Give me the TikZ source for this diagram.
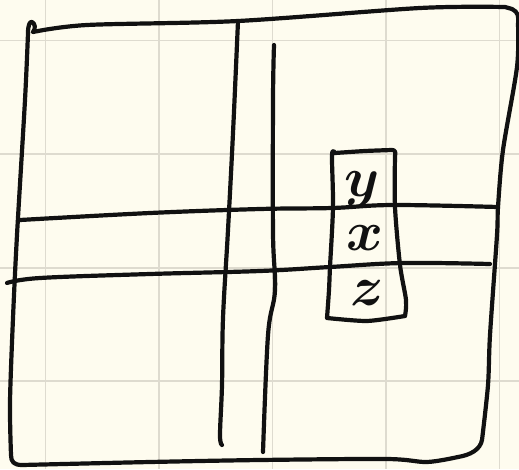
\documentclass[tikz,border=0pt]{standalone}
\usepackage{xcolor}
\usepackage{graphicx}
\usepackage{bm}
\definecolor{paper}{HTML}{FEFCEF}
\definecolor{gridc}{HTML}{DEDBCF}
\definecolor{ink}{HTML}{111111}
\begin{document}
\begin{tikzpicture}[x=1pt,y=-1pt,
  ink/.style={draw=ink,line width=4.2pt,line cap=round,line join=round},
  gridline/.style={draw=gridc,line width=1.6pt},
  letter/.style={text=ink,inner sep=0pt}]
\fill[paper] (0,0) rectangle (519,469);
\useasboundingbox (0,0) rectangle (519,469);
% grid
\foreach \gx in {45.5,159,272.5,386,499.5}{\draw[gridline] (\gx,0) -- (\gx,469);}
\foreach \gy in {40.5,154,268,381}{\draw[gridline] (0,\gy) -- (519,\gy);}
% outer square
\draw[ink] plot[smooth,tension=0.5] coordinates {(33,32) (87,25) (238,21) (420,8) (505,7)}
  -- (512,9) .. controls (518,12) and (519,16) .. (518,24)
  plot[smooth,tension=0.5] coordinates {(518,24) (517,67) (503,150) (498,207) (497,235) (490,335) (488,385) (482,440)}
  .. controls (480,450) and (470,455) .. (458,457)
  plot[smooth,tension=0.5] coordinates {(458,457) (427,462) (387,459) (260,460) (150,462) (22,465)}
  .. controls (14,465) and (11,462) .. (11,455)
  plot[smooth,tension=0.5] coordinates {(11,455) (10,402) (13,318) (17,235) (25,100) (28,33)}
  .. controls (28,25) and (30,21) .. (32,22)
  .. controls (35,23) and (36,29) .. (33,32);
% vertical lines
\draw[ink] plot[smooth,tension=0.6] coordinates {(238,21) (233,133) (228,230) (223,318) (222,385) (220,435) (222,445)};
\draw[ink] plot[smooth,tension=0.6] coordinates {(274,45) (273,100) (273,233) (275,290) (268,335) (263,452)};
% horizontal lines
\draw[ink] plot[smooth,tension=0.6] coordinates {(20,220) (150,213) (260,209) (332,208) (393,205) (498,207)};
\draw[ink] plot[smooth,tension=0.6] coordinates {(7,283) (40,278) (150,274) (260,271) (330,267) (403,263) (490,264)};
% small box
\draw[ink] plot[smooth,tension=0.4] coordinates {(335,153) (365,151) (392,150)}
  .. controls (395,150) and (396,152) .. (395,156)
  plot[smooth,tension=0.5] coordinates {(395,156) (395,207) (400,265) (406,300) (405,316)}
  plot[smooth,tension=0.4] coordinates {(405,316) (367,321) (327,318)}
  plot[smooth,tension=0.5] coordinates {(327,318) (329,290) (330,267) (333,207) (332,155) (335,153)};
% letters
\node[letter] (ly) at (362,189) {\scalebox{5.6}{$\bm{y}$}};
\node[letter] (lx) at (365,238) {\scalebox{5.6}{$\bm{x}$}};
\node[letter] (lz) at (367,293) {\scalebox{5.6}{$\bm{z}$}};
\end{tikzpicture}
\end{document}
